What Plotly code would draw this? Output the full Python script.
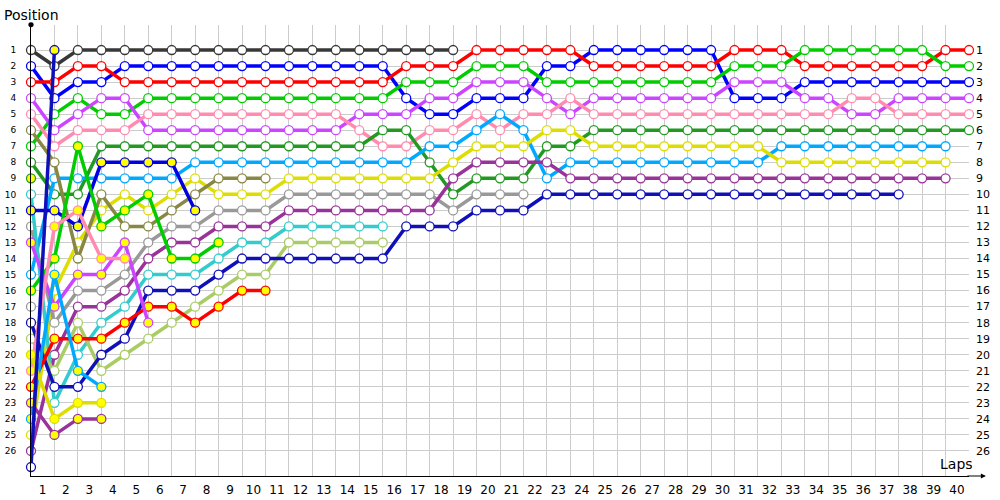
import plotly.graph_objects as go

# ---------------- data (position per lap, index = lap 0..40) ----------------
lap_labels = [str(i) for i in range(1, 41)]
positions = list(range(1, 27))

pos_black   = [1, 2] + [1] * 17
pos_blue    = [2, 4, 3, 3] + [2] * 12 + [4, 5, 5, 4, 4, 4, 2, 2] + [1] * 6 + [4, 4, 4] + [3] * 8
pos_red     = [3, 3, 2, 2] + [3] * 12 + [2, 2, 2] + [1] * 5 + [2] * 6 + [1, 1, 1] + [2] * 6 + [1, 1]
pos_green   = [7, 5, 4, 5, 5] + [4] * 11 + [3, 3, 3, 2, 2, 2] + [3] * 8 + [2, 2, 2] + [1] * 6 + [2, 2]
pos_magenta = [4, 6, 5, 4, 4] + [6] * 9 + [5, 5, 5, 4, 4, 3, 3, 3, 4, 5] + [4] * 6 + [3, 3, 3, 4, 4, 5, 5, 4, 4, 4, 4]
pos_pink    = [5, 7, 6, 6, 6] + [5] * 9 + [6, 7, 7, 6, 6, 5, 6, 5, 5, 4] + [5] * 11 + [4, 4, 5, 5, 5, 5]
pos_dkgreen = [8, 10, 10] + [7] * 12 + [6, 6, 8, 10, 9, 9, 9, 7, 7] + [6] * 17
pos_sky     = [15] + [9] * 6 + [8] * 10 + [7, 7, 6, 5, 6, 9] + [8] * 9 + [7] * 8
pos_yellow  = [25, 16, 13, 11, 10, 11, 10, 9, 10, 10, 10] + [9] * 7 + [8, 7, 7, 7, 6, 6] + [7] * 8 + [8] * 8
pos_olive   = [6, 8, 14, 10, 12, 12, 11, 10, 9, 9, 9]
pos_gray    = [12, 18, 16, 16, 15, 13, 12, 12, 11, 11, 11] + [10] * 7 + [11, 10, 10, 10]
pos_purple  = [26, 20, 17, 17, 16, 14, 13, 13, 12, 12, 12] + [11] * 7 + [9, 8, 8, 8, 8] + [9] * 17
pos_teal    = [10, 23, 20, 18, 17, 15, 15, 15, 14, 13, 13, 12, 12, 12, 12, 12]
pos_lgreen  = [19, 21, 18, 21, 20, 19, 18, 17, 16, 15, 15, 13, 13, 13, 13, 13]
pos_dkblue  = [18, 22, 22, 20, 19, 16, 16, 16, 15, 14, 14, 14, 14, 14, 14, 14, 12, 12, 12, 11, 11, 11] + [10] * 16
pos_red2    = [22, 19, 19, 19, 18, 17, 17, 18, 17, 16, 16]
pos_blue2   = [11, 11, 12, 8, 8, 8, 8, 11]
pos_green2  = [16, 14, 7, 12, 11, 10, 14, 14, 13]
pos_magenta2 = [13, 17, 15, 15, 13, 18]
pos_pink2   = [21, 12, 11, 14, 14]
pos_sky2    = [24, 15, 21, 22]
pos_yellow2 = [20, 24, 23, 23]
pos_purple2 = [23, 25, 24, 24]
pos_dkblue2 = [27, 1]
pos_ret1    = [9]
pos_ret2    = [17]

series_names = ["black", "blue", "red", "green", "magenta", "pink", "dkgreen", "sky",
                "yellow", "olive", "gray", "purple", "teal", "lgreen", "dkblue",
                "red2", "blue2", "green2", "magenta2", "pink2", "sky2", "yellow2",
                "purple2", "dkblue2", "ret1", "ret2"]
series_pos = [pos_black, pos_blue, pos_red, pos_green, pos_magenta, pos_pink, pos_dkgreen,
              pos_sky, pos_yellow, pos_olive, pos_gray, pos_purple, pos_teal, pos_lgreen,
              pos_dkblue, pos_red2, pos_blue2, pos_green2, pos_magenta2, pos_pink2,
              pos_sky2, pos_yellow2, pos_purple2, pos_dkblue2, pos_ret1, pos_ret2]
series_color = ["#383838", "#0000FF", "#FF0000", "#00CC00", "#CC44FF", "#FF8CB0", "#229922",
                "#00A8FF", "#DDDD00", "#888844", "#999999", "#993399", "#33CCCC", "#AACC66",
                "#1010B8", "#FF0000", "#0000E0", "#00CC00", "#CC44FF", "#FF8CB0",
                "#00A8FF", "#DDDD00", "#993399", "#1010B8", "#229922", "#999999"]
W, Y = "white", "#FFFF00"
series_fill = [W] * 15 + [Y] * 8 + [[W, Y], Y, W]

# ---------------- figure ----------------
fig = go.Figure()
for name, pos, col, fill in zip(series_names, series_pos, series_color, series_fill):
    fig.add_trace(go.Scatter(
        x=list(range(len(pos))), y=pos, mode="lines+markers", name=name,
        line=dict(color=col, width=3.5),
        marker=dict(symbol="circle", size=9, color=fill, line=dict(color=col, width=1.3)),
        showlegend=False, hoverinfo="skip", cliponaxis=False,
    ))

# invisible trace for right-side axis
fig.add_trace(go.Scatter(x=[0], y=[1], yaxis="y2", mode="markers",
                         marker=dict(opacity=0), showlegend=False, hoverinfo="skip"))

font_family = "DejaVu Sans"
yr = [27.56, -0.56]
fig.update_layout(
    width=1000, height=500,
    margin=dict(l=31, r=31, t=25, b=24, autoexpand=False),
    paper_bgcolor="white", plot_bgcolor="white",
    font=dict(family=font_family, color="#000000"),
    xaxis=dict(range=[0, 40], tickvals=list(range(1, 41)), ticktext=lap_labels,
               ticklabelshift=-12, ticks="", showgrid=True, gridcolor="#CCCCCC", gridwidth=1,
               showline=True, linecolor="#000000", linewidth=1, zeroline=False,
               automargin=False,
               tickfont=dict(size=12, family=font_family), ticklabelstandoff=3),
    yaxis=dict(range=yr, tickvals=positions, ticktext=[str(p) for p in positions],
               ticks="", showgrid=True, gridcolor="#CCCCCC", gridwidth=1,
               showline=True, linecolor="#000000", linewidth=1, zeroline=False,
               automargin=False,
               tickfont=dict(size=9, family=font_family), ticklabelstandoff=12),
    yaxis2=dict(range=yr, overlaying="y", side="right", tickvals=positions,
                ticktext=[str(p) for p in positions], ticks="", showgrid=False,
                zeroline=False, showline=False, automargin=False,
                tickfont=dict(size=11, family=font_family), ticklabelstandoff=6),
)

fig.add_annotation(text="Position", xref="paper", yref="paper", x=-0.031, y=0.999,
                   xanchor="left", yanchor="bottom", showarrow=False,
                   font=dict(size=14, family=font_family))
fig.add_annotation(text="Laps", xref="paper", yref="paper", x=1.006, y=0.004,
                   xanchor="right", yanchor="bottom", showarrow=False,
                   font=dict(size=14, family=font_family))
# x-axis arrow
fig.add_annotation(x=1.018, y=0, xref="paper", yref="paper", ax=-20, ay=0,
                   showarrow=True, arrowhead=2, arrowsize=1, arrowwidth=1, arrowcolor="#000",
                   text="")
# y-axis top dot
fig.add_shape(type="circle", xref="paper", yref="paper", x0=-0.0028, x1=0.0028,
              y0=0.995, y1=1.006, fillcolor="#000", line=dict(color="#000", width=0))

fig.write_html("out.html", config={"displayModeBar": False},
               post_script="document.body.style.margin='0';document.body.style.overflow='hidden';")
